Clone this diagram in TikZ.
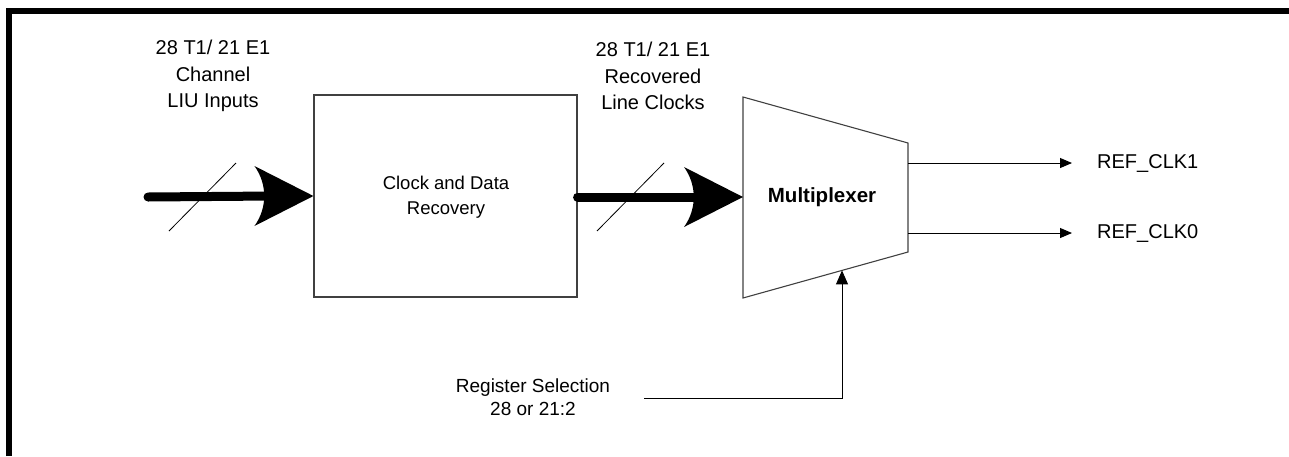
\documentclass[tikz,border=0pt]{standalone}
\usepackage{fontspec}
\setmainfont{Liberation Sans}
\usetikzlibrary{arrows.meta,calc}
\begin{document}
\begin{tikzpicture}[x=1pt,y=-1pt,
  lbl/.style={inner sep=0pt, align=center, font=\fontsize{20}{26.5}\selectfont},
  thin/.style={line width=1.1pt, draw=black!75},
  sig/.style={line width=1pt, -{Triangle[length=12pt,width=10pt]}},
  fatline/.style={line width=9pt, line cap=round},
  slash/.style={line width=0.8pt}]
\useasboundingbox (0,0) rectangle (1289,456);
% frame
\draw[line width=5.8pt] (9,456) -- (9,10.6) -- (1289,10.6);
% labels above
\node[lbl] (inlbl) at (213,76) {28 T1/ 21 E1\\Channel\\LIU Inputs};
\node[lbl] (reclbl) at (653,76) {28 T1/ 21 E1\\Recovered\\Line Clocks};
% clock and data recovery box
\node[thin, draw, rectangle, minimum width=263pt, minimum height=202pt,
      font=\fontsize{18.5}{25}\selectfont, align=center, inner sep=0pt,
      text depth=0pt] (cdr) at (445.5,196) {};
\node[lbl, font=\fontsize{18.5}{25}\selectfont] (cdrtxt) at (446,197.5) {Clock and Data\\Recovery};
% multiplexer trapezoid
\coordinate (tl) at (743,97);
\coordinate (tr) at (908,143);
\coordinate (br) at (908,252);
\coordinate (bl) at (743,298);
\draw[thin, line join=miter] (tl) -- (tr) -- (br) -- (bl) -- cycle;
\coordinate (muxin) at (743,197);
\node[lbl, font=\bfseries\fontsize{20.5}{25}\selectfont] (mux) at (822,197) {Multiplexer};
% input bus arrow
\coordinate (busin) at (148,197);
\draw[fatline] (busin) -- ($(cdr.west)+(-40,0)$);
\fill[shift={(cdr.west)}] (0,0) -- (-59,-30) .. controls (-46,-12) and (-46,12) .. (-59,30) -- cycle;
\draw[slash] (169,231) -- (236,163);
% recovered bus arrow
\draw[fatline] ($(cdr.east)+(0,1)$) -- ($(muxin)+(-40,0)$);
\fill[shift={(muxin)}] (0,0) -- (-59,-30) .. controls (-46,-12) and (-46,12) .. (-59,30) -- cycle;
\draw[slash] (597,231) -- (664,163);
% outputs
\coordinate (o1) at (908,163);
\coordinate (o0) at (908,233);
\node[lbl, anchor=west] (ref1) at (1072,163) {\hspace*{25pt}REF\_CLK1};
\node[lbl, anchor=west] (ref0) at (1072,233) {\hspace*{25pt}REF\_CLK0};
\draw[sig] (o1) -- (ref1.west);
\draw[sig] (o0) -- (ref0.west);
% register selection
\node[lbl, font=\fontsize{19}{23}\selectfont] (reg) at (533,397) {Register Selection\\28 or 21:2};
\coordinate (selstart) at (644,398);
\coordinate (muxbot) at ($(bl)!0.6!(br)$);
\draw[line width=1pt, -{Triangle[length=14pt,width=12pt]}] (selstart) -- (muxbot |- selstart) -- (muxbot);
\end{tikzpicture}
\end{document}
